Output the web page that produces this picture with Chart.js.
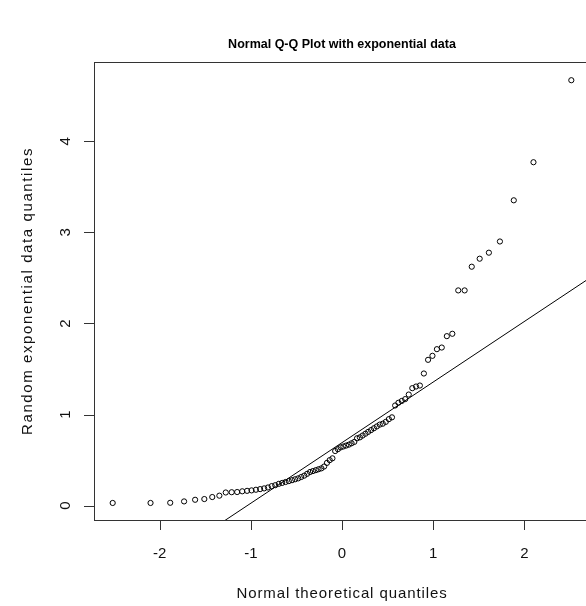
<!DOCTYPE html>
<html>
<head>
<meta charset="utf-8">
<script src="https://cdn.jsdelivr.net/npm/chart.js@4/dist/chart.umd.min.js"></script>
<style>
html,body{margin:0;padding:0;background:#fff;overflow:hidden;width:586px;height:606px;}
#wrap{position:absolute;left:0;top:0;width:600px;height:606px;}
</style>
</head>
<body>
<div id="wrap"><canvas id="c" width="600" height="606"></canvas></div>
<script>
const chartTitle = "Normal Q-Q Plot with exponential data";
const xTitle = "Normal theoretical quantiles";
const yTitle = "Random exponential data quantiles";
const xTicks = [-2, -1, 0, 1, 2];
const yTicks = [0, 1, 2, 3, 4];
const xRange = [-2.72, 2.72];
const yRange = [-0.157, 4.87];

// theoretical quantiles (x)
const theoretical = [
 -2.515,-2.100,-1.884,-1.732,-1.611,-1.510,-1.423,-1.345,-1.275,-1.210,
 -1.150,-1.094,-1.041,-0.992,-0.944,-0.898,-0.854,-0.812,-0.771,-0.732,
 -0.693,-0.656,-0.619,-0.583,-0.548,-0.514,-0.480,-0.447,-0.414,-0.382,
 -0.350,-0.319,-0.287,-0.257,-0.226,-0.196,-0.165,-0.135,-0.105,-0.075,
 -0.045,-0.015, 0.015, 0.045, 0.075, 0.105, 0.135, 0.165, 0.196, 0.226,
  0.257, 0.287, 0.319, 0.350, 0.382, 0.414, 0.447, 0.480, 0.514, 0.548,
  0.583, 0.619, 0.656, 0.693, 0.732, 0.771, 0.812, 0.854, 0.898, 0.944,
  0.992, 1.041, 1.094, 1.150, 1.210, 1.275, 1.345, 1.423, 1.510, 1.611,
  1.732, 1.884, 2.100, 2.515
];
// sample quantiles (y)
const sample = [
 0.030,0.030,0.032,0.047,0.065,0.073,0.095,0.110,0.145,0.148,
 0.150,0.158,0.163,0.168,0.175,0.182,0.190,0.200,0.215,0.225,
 0.240,0.250,0.260,0.270,0.280,0.290,0.300,0.315,0.330,0.350,
 0.370,0.380,0.390,0.400,0.410,0.430,0.470,0.500,0.520,0.600,
 0.620,0.640,0.650,0.660,0.670,0.685,0.700,0.740,0.750,0.770,
 0.790,0.810,0.830,0.850,0.870,0.890,0.900,0.920,0.950,0.970,
 1.100,1.130,1.150,1.170,1.220,1.290,1.308,1.319,1.451,1.601,
 1.645,1.718,1.736,1.861,1.887,2.363,2.363,2.623,2.711,2.777,
 2.900,3.352,3.770,4.670
];
// reference line (qqline): y = intercept + slope * x
const lineIntercept = 0.692;
const lineSlope = 0.665;

const pts = theoretical.map((x,i)=>({x:x, y:sample[i]}));
const linePts = xRange.map(x=>({x:x, y:lineIntercept + lineSlope*x}));

const FONT = '"Liberation Sans", Arial, sans-serif';
const AX = '#333';

const decor = {
  id:'decor',
  afterDraw(chart){
    const ctx = chart.ctx, a = chart.chartArea;
    const xs = chart.scales.x, ys = chart.scales.y;
    ctx.save();
    ctx.strokeStyle = AX; ctx.lineWidth = 1;
    ctx.strokeRect(Math.round(a.left)+0.5, Math.round(a.top)+0.5, Math.round(a.right-a.left), Math.round(a.bottom-a.top));
    ctx.beginPath();
    xTicks.forEach(v=>{const p=Math.round(xs.getPixelForValue(v))+0.5; ctx.moveTo(p,a.bottom); ctx.lineTo(p,a.bottom+10);});
    yTicks.forEach(v=>{const p=Math.round(ys.getPixelForValue(v))+0.5; ctx.moveTo(a.left,p); ctx.lineTo(a.left-10,p);});
    ctx.stroke();
    ctx.fillStyle = '#111';
    ctx.font = '15px ' + FONT;
    ctx.textAlign='center'; ctx.textBaseline='middle';
    xTicks.forEach(v=>{ ctx.fillText(String(v), xs.getPixelForValue(v), a.bottom+34); });
    yTicks.forEach(v=>{
      ctx.save(); ctx.translate(a.left-28, ys.getPixelForValue(v)); ctx.rotate(-Math.PI/2);
      ctx.fillText(String(v),0,0); ctx.restore();
    });
    const cx = (a.left + xs.getPixelForValue(xRange[1]))/2;
    ctx.letterSpacing = '0.9px';
    ctx.fillText(xTitle, cx, a.bottom+74);
    ctx.letterSpacing = '1.6px';
    ctx.save(); ctx.translate(28, (a.top+a.bottom)/2); ctx.rotate(-Math.PI/2);
    ctx.fillText(yTitle,0,0); ctx.restore();
    ctx.letterSpacing = '0px';
    ctx.font = 'bold 12.5px ' + FONT;
    ctx.fillStyle = '#000';
    ctx.fillText(chartTitle, cx, 45);
    ctx.restore();
  }
};

new Chart(document.getElementById('c'), {
  type:'scatter',
  data:{datasets:[
    {type:'scatter', data:pts, pointStyle:'circle', pointRadius:2.6, pointBorderWidth:1,
     borderColor:'#000', backgroundColor:'rgba(0,0,0,0)', pointHoverRadius:2.6},
    {type:'line', data:linePts, borderColor:'#000', borderWidth:1, pointRadius:0, fill:false, tension:0}
  ]},
  options:{
    responsive:false, animation:false, devicePixelRatio:1,
    layout:{padding:{left:0, top:62, right:10, bottom:74}},
    plugins:{legend:{display:false}, tooltip:{enabled:false}, title:{display:false}},
    scales:{
      x:{type:'linear', min:xRange[0], max:xRange[1],
         grid:{display:false}, border:{display:false}, ticks:{display:false},
         afterFit(s){ s.height = 12; }},
      y:{type:'linear', min:yRange[0], max:yRange[1],
         grid:{display:false}, border:{display:false}, ticks:{display:false},
         afterFit(s){ s.width = 94; }}
    }
  },
  plugins:[decor]
});
</script>
</body>
</html>
